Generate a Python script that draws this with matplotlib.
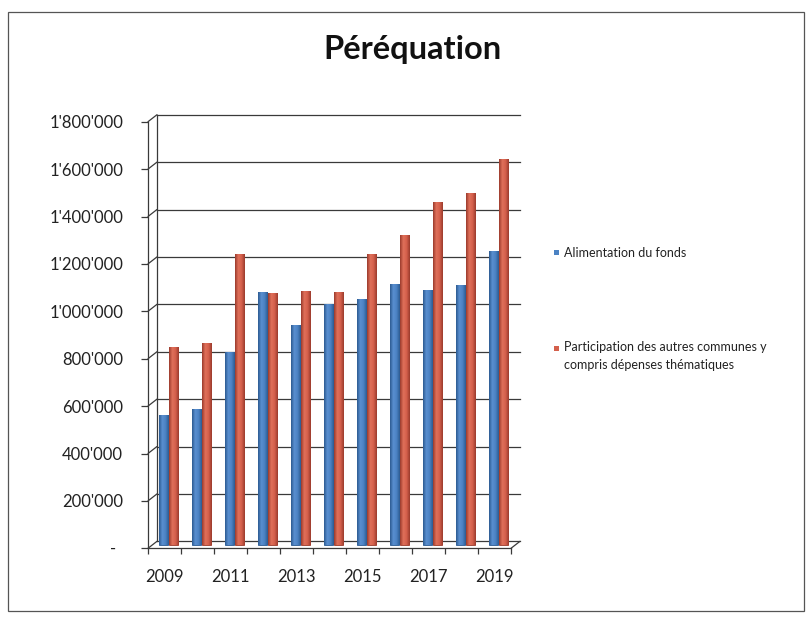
import numpy as np
import matplotlib
matplotlib.use("Agg")
from matplotlib import pyplot as plt
from matplotlib.patches import Rectangle
from matplotlib.colors import LinearSegmentedColormap
from matplotlib.transforms import ScaledTranslation, blended_transform_factory

plt.rcParams['font.family'] = ['Lato', 'DejaVu Sans']

# data
years = [2009, 2010, 2011, 2012, 2013, 2014, 2015, 2016, 2017, 2018, 2019]
alimentation = [549000, 577000, 816000, 1067000, 928000, 1020000, 1038000, 1101000, 1076000, 1097000, 1242000]
participation = [837000, 854000, 1228000, 1065000, 1072000, 1067000, 1228000, 1308000, 1447000, 1488000, 1632000]
yticks = [0, 200000, 400000, 600000, 800000, 1000000, 1200000, 1400000, 1600000, 1800000]
name_a = "Alimentation du fonds"
name_p = "Participation des autres communes y\ncompris dépenses thématiques"

blue = '#4b82c3'
red = '#d4604c'
line_col = '#3a3a3a'
# cylinder shading, dark edge -> light -> dark edge
cmap_b = LinearSegmentedColormap.from_list('b', ['#2c5a90', '#5a8fd0', '#4b82c3', '#2c5a90'])
cmap_r = LinearSegmentedColormap.from_list('r', ['#9a3a2c', '#e0705a', '#d4604c', '#9a3a2c'])

fig = plt.figure(figsize=(8.12, 6.19), dpi=100)
ax = fig.add_axes([148/812, 1 - 548.3/619, 363/812, (548.3 - 121.7)/619])

ax.set_xlim(-0.5, len(years) - 0.5)
ax.set_ylim(0, 1800000)

# bars stand at mid depth of the floor
mid = ax.transData + ScaledTranslation(0, 3/100, fig.dpi_scale_trans)
grad = np.linspace(0, 1, 64).reshape(1, -1)

x = np.arange(len(years))
bars_a = ax.bar(x - 0.03, alimentation, width=0.30, color=blue, edgecolor='#2c5a90', linewidth=0.6, zorder=3)
bars_p = ax.bar(x + 0.27, participation, width=0.28, color=red, edgecolor='#9a3a2c', linewidth=0.6, zorder=3)
for bars, cm in [(bars_a, cmap_b), (bars_p, cmap_r)]:
    for b in bars:
        b.set_transform(mid)
        b.set_clip_on(False)
        bx, bw, bh = b.get_x(), b.get_width(), b.get_height()
        im = ax.imshow(grad, cmap=cm, aspect='auto', extent=(bx, bx + bw, 0, bh),
                       transform=mid, zorder=3.5, interpolation='bilinear')
        im.set_clip_path(b)
        im.set_clip_on(True)

ax.set_xlim(-0.5, len(years) - 0.5)
ax.set_ylim(0, 1800000)

# back wall of the 3d chart, shifted up and right
back = ax.transData + ScaledTranslation(9/100, 7/100, fig.dpi_scale_trans)
x0, x1 = -0.5, len(years) - 0.5
for v in yticks:
    ax.plot([x0, x1], [v, v], color=line_col, lw=0.9, transform=back, clip_on=False, zorder=1)
    # connector from front axis to wall
    ax.annotate('', xy=(x0, v), xycoords=back, xytext=(x0, v), textcoords='data',
                arrowprops=dict(arrowstyle='-', color=line_col, lw=0.9, shrinkA=0, shrinkB=0))
ax.plot([x0, x0], [0, 1800000], color=line_col, lw=0.9, transform=back, clip_on=False, zorder=1)
ax.annotate('', xy=(x1, 0), xycoords=back, xytext=(x1, 0), textcoords='data',
            arrowprops=dict(arrowstyle='-', color=line_col, lw=0.9, shrinkA=0, shrinkB=0))

for s in ['top', 'right']:
    ax.spines[s].set_visible(False)
for s in ['left', 'bottom']:
    ax.spines[s].set_color(line_col)
    ax.spines[s].set_linewidth(0.9)
    ax.spines[s].set_zorder(4)

ax.set_yticks(yticks)
ax.set_yticklabels([''] + ["{:,}".format(v).replace(',', "'") for v in yticks[1:]])
ax.tick_params(axis='y', length=5, width=0.9, color=line_col, pad=13, labelsize=12, labelcolor='#222222')
ax.text(113/812, 0, '-', transform=blended_transform_factory(fig.transFigure, ax.transData),
        ha='center', va='center', fontsize=12, color='#222222')

ax.set_xticks(x[::2])
ax.set_xticklabels([str(y) for y in years[::2]])
ax.set_xticks(np.arange(-0.5, len(years)), minor=True)
ax.tick_params(axis='x', which='major', length=0, pad=15, labelsize=12, labelcolor='#222222')
ax.tick_params(axis='x', which='minor', length=4, width=0.9, color=line_col)

fig.text(412/812, 1 - 50/619, 'Péréquation', ha='center', va='center', fontsize=23.5, fontweight='bold', color='#111111')

# legend
sq = 5
fig.add_artist(Rectangle((554/812, 1 - (252.7 + sq/2)/619), sq/812, sq/619, transform=fig.transFigure,
                         facecolor=blue, edgecolor='none'))
fig.text(564/812, 1 - 252.7/619, name_a, ha='left', va='center', fontsize=9, color='#222222')
fig.add_artist(Rectangle((554/812, 1 - (348.3 + sq/2)/619), sq/812, sq/619, transform=fig.transFigure,
                         facecolor=red, edgecolor='none'))
fig.text(564/812, 1 - 341/619, name_p, ha='left', va='top', fontsize=9, color='#222222', linespacing=1.6)

# outer chart border
fig.add_artist(Rectangle((8/812, 1 - 611/619), 796/812, 599/619, transform=fig.transFigure,
                         facecolor='none', edgecolor='#555555', lw=0.9))

fig.savefig('out.png', dpi=100)
